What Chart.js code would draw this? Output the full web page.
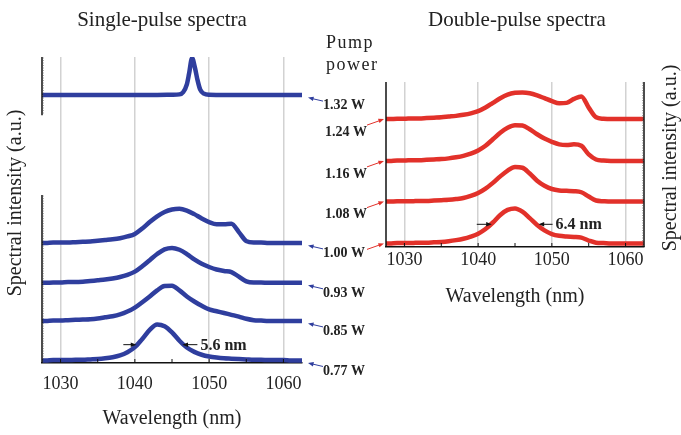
<!DOCTYPE html>
<html>
<head>
<meta charset="utf-8">
<script src="https://cdn.jsdelivr.net/npm/chart.js@4.4.1/dist/chart.umd.min.js"></script>
<style>
  html, body { margin: 0; padding: 0; background: #fff; }
  #wrap { position: relative; width: 681px; height: 435px; }
  #wrap canvas { position: absolute; left: 0; top: 0; }
</style>
</head>
<body>
<div id="wrap">
  <canvas id="singleChart" width="681" height="435"></canvas>
  <canvas id="doubleChart" width="681" height="435"></canvas>
</div>
<script>
// wavelength grid (nm) used by most traces
const wavelengths = [1027, 1028, 1029, 1030, 1031, 1032, 1033, 1034, 1035, 1036,
  1037, 1038, 1039, 1040, 1041, 1042, 1043, 1044, 1045, 1046,
  1047, 1048, 1049, 1050, 1051, 1052, 1053, 1054, 1055, 1056,
  1057, 1058, 1059, 1060, 1061, 1062, 1063]
const xTicks = [1030, 1040, 1050, 1060]

// single-pulse spectra (normalised, a.u.)
const blue077 = [0, 0, 0.01, 0.01, 0.01, 0.02, 0.02, 0.03, 0.04, 0.06,
  0.09, 0.14, 0.23, 0.37, 0.6, 0.85, 1.0, 0.95, 0.78, 0.55,
  0.36, 0.24, 0.16, 0.11, 0.08, 0.06, 0.05, 0.04, 0.03, 0.02,
  0.02, 0.01, 0.01, 0.01, 0, 0, 0]
const blue085 = [0, 0, 0.01, 0.01, 0.02, 0.03, 0.04, 0.05, 0.07, 0.1,
  0.13, 0.18, 0.26, 0.37, 0.52, 0.68, 0.85, 0.97, 0.98, 0.85,
  0.68, 0.54, 0.42, 0.32, 0.27, 0.22, 0.17, 0.12, 0.06, 0.02,
  0.01, 0, 0, 0, 0, 0, 0]
const blue093 = [0, 0, 0.01, 0.01, 0.02, 0.02, 0.03, 0.05, 0.07, 0.09,
  0.12, 0.16, 0.22, 0.31, 0.46, 0.63, 0.8, 0.93, 0.97, 0.92,
  0.8, 0.65, 0.53, 0.44, 0.37, 0.33, 0.3, 0.17, 0.04, 0.01,
  0.01, 0, 0, 0, 0, 0, 0]
const blue100 = [0, 0, 0.01, 0.01, 0.01, 0.02, 0.03, 0.04, 0.06, 0.08,
  0.1, 0.13, 0.18, 0.25, 0.4, 0.58, 0.74, 0.86, 0.93, 0.95,
  0.9, 0.8, 0.68, 0.58, 0.52, 0.52, 0.53, 0.3, 0.05, 0.01,
  0.01, 0, 0, 0, 0, 0, 0]
// 1.32 W trace has a narrow line, sampled on its own grid
const peakWavelengths = [1027, 1040, 1045, 1046, 1046.5, 1047, 1047.3, 1047.7, 1048.1, 1048.4, 1048.8, 1049.3, 1050, 1055, 1063]
const blue132 = [0, 0, 0.01, 0.02, 0.08, 0.3, 0.6, 1.03, 0.75, 0.45, 0.15, 0.04, 0.01, 0, 0]

const singlePowers = ['0.77 W', '0.85 W', '0.93 W', '1.00 W', '1.32 W']
const singleOffsets = [0, 1.1, 2.16, 3.27, 7.38]
const singleFwhm = [1040.2, 1046.4]   // arrow tips on the 0.77 W trace
const singleFwhmLevel = 0.44

// double-pulse spectra
const red100 = [0, 0, 0.01, 0.01, 0.01, 0.02, 0.02, 0.03, 0.04, 0.06,
  0.09, 0.13, 0.19, 0.27, 0.4, 0.58, 0.79, 0.93, 0.97, 0.88,
  0.7, 0.51, 0.36, 0.26, 0.21, 0.19, 0.18, 0.16, 0.08, 0.02,
  0.01, 0, 0, 0, 0, 0, 0]
const red108 = [0, 0, 0.01, 0.01, 0.01, 0.02, 0.02, 0.03, 0.04, 0.05,
  0.07, 0.1, 0.16, 0.24, 0.36, 0.52, 0.7, 0.86, 0.96, 0.94,
  0.78, 0.58, 0.44, 0.35, 0.31, 0.3, 0.29, 0.26, 0.14, 0.03,
  0.01, 0, 0, 0, 0, 0, 0]
const red116 = [0, 0, 0.01, 0.01, 0.02, 0.02, 0.03, 0.04, 0.05, 0.07,
  0.1, 0.14, 0.2, 0.29, 0.42, 0.6, 0.78, 0.92, 0.99, 0.98,
  0.88, 0.74, 0.62, 0.53, 0.46, 0.44, 0.46, 0.42, 0.18, 0.04,
  0.01, 0, 0, 0, 0, 0, 0]
const red124 = [0, 0, 0.01, 0.01, 0.02, 0.02, 0.03, 0.04, 0.05, 0.07,
  0.09, 0.12, 0.16, 0.22, 0.32, 0.45, 0.58, 0.68, 0.73, 0.74,
  0.72, 0.66, 0.58, 0.5, 0.44, 0.45, 0.56, 0.63, 0.32, 0.05,
  0.01, 0, 0, 0, 0, 0, 0]

const doublePowers = ['1.00 W', '1.08 W', '1.16 W', '1.24 W']
const doubleOffsets = [0, 1.16, 2.29, 3.45]
const doubleFwhm = [1041.85, 1048.2]
const doubleFwhmLevel = 0.53

const BLUE = '#2f3e9e'
const RED = '#e2312a'
const SERIF = "'Liberation Serif', 'Times New Roman', serif"

function arrow(ctx, x0, y0, x1, y1, color, head) {
  const ang = Math.atan2(y1 - y0, x1 - x0)
  ctx.strokeStyle = color
  ctx.fillStyle = color
  ctx.lineWidth = 1
  ctx.beginPath()
  ctx.moveTo(x0, y0)
  ctx.lineTo(x1 - head * 0.7 * Math.cos(ang), y1 - head * 0.7 * Math.sin(ang))
  ctx.stroke()
  ctx.beginPath()
  ctx.moveTo(x1, y1)
  ctx.lineTo(x1 - head * Math.cos(ang - 0.38), y1 - head * Math.sin(ang - 0.38))
  ctx.lineTo(x1 - head * Math.cos(ang + 0.38), y1 - head * Math.sin(ang + 0.38))
  ctx.closePath()
  ctx.fill()
}

function dottedAxis(ctx, x, y0, y1, dir) {
  // axis line with dense small ticks
  ctx.strokeStyle = '#111'
  ctx.lineWidth = 1.5
  ctx.beginPath(); ctx.moveTo(x, y0); ctx.lineTo(x, y1); ctx.stroke()
  ctx.strokeStyle = '#555'
  ctx.lineWidth = 0.5
  ctx.beginPath()
  for (let y = y0 + 1; y < y1; y += 2.5) {
    ctx.moveTo(x, y); ctx.lineTo(x + dir * 2, y)
  }
  ctx.stroke()
}

function minorX(ctx, chart) {
  const { chartArea: a, scales: { x } } = chart
  ctx.strokeStyle = '#111'
  ctx.lineWidth = 1
  ctx.beginPath()
  for (let v = 1030; v <= 1060; v += 5) {
    const px = x.getPixelForValue(v)
    ctx.moveTo(px, a.bottom); ctx.lineTo(px, a.bottom - 4)
  }
  ctx.stroke()
}

function makeDataset(xs, ys, offset, color) {
  return {
    data: xs.map((w, i) => ({ x: w, y: offset + ys[i] })),
    borderColor: color,
    borderWidth: 4.5,
    pointRadius: 0,
    fill: false,
    cubicInterpolationMode: 'monotone'
  }
}

function xScale(height, tickPad) {
  return {
    type: 'linear',
    min: 1027.5,
    max: 1062.5,
    afterBuildTicks: s => { s.ticks = xTicks.map(v => ({ value: v })) },
    afterFit: s => { s.height = height },
    ticks: {
      padding: tickPad,
      color: '#222',
      font: { family: SERIF, size: 18 },
      callback: v => String(v)
    },
    grid: { color: '#d2d2d2', lineWidth: 1.5, drawTicks: false },
    border: { display: true, color: '#111', width: 1.5 },
    title: { display: true, text: 'Wavelength (nm)', color: '#222', font: { family: SERIF, size: 20 }, padding: { top: 4, bottom: 4 } }
  }
}

const singleDecor = {
  id: 'singleDecor',
  afterDraw(chart) {
    const { ctx, chartArea: a, scales: { x, y } } = chart
    ctx.save()
    // broken left axis
    dottedAxis(ctx, a.left, a.top, y.getPixelForValue(6.82), 1)
    dottedAxis(ctx, a.left, y.getPixelForValue(4.6), a.bottom, 1)
    minorX(ctx, chart)

    ctx.fillStyle = '#222'
    ctx.font = '21px ' + SERIF
    ctx.textAlign = 'center'
    ctx.textBaseline = 'alphabetic'
    ctx.fillText('Single-pulse spectra', 162, 26)

    ctx.save()
    ctx.translate(16, 203)
    ctx.rotate(-Math.PI / 2)
    ctx.font = '20px ' + SERIF
    ctx.textBaseline = 'middle'
    ctx.fillText('Spectral intensity (a.u.)', 0, 0)
    ctx.restore()

    // pump power header
    ctx.textAlign = 'left'
    ctx.font = '18px ' + SERIF
    ctx.letterSpacing = '1.5px'
    ctx.fillText('Pump', a.right + 24, 48)
    ctx.fillText('power', a.right + 24, 70)
    ctx.letterSpacing = '0px'

    // power labels and arrows
    ctx.font = 'bold 14px ' + SERIF
    ctx.textBaseline = 'middle'
    singleOffsets.forEach((off, i) => {
      const by = y.getPixelForValue(off)
      ctx.fillStyle = '#222'
      ctx.fillText(singlePowers[i], a.right + 21, by + 10.5)
      arrow(ctx, a.right + 21, by + 6, a.right + 6, by + 2.5, BLUE, 6)
    })

    // FWHM marker
    const fy = y.getPixelForValue(singleOffsets[0] + singleFwhmLevel)
    const l = x.getPixelForValue(singleFwhm[0])
    const r = x.getPixelForValue(singleFwhm[1])
    arrow(ctx, l - 13, fy, l, fy, '#111', 6)
    arrow(ctx, r + 15, fy, r, fy, '#111', 6)
    ctx.fillStyle = '#222'
    ctx.font = 'bold 16px ' + SERIF
    ctx.fillText('5.6 nm', r + 18, fy + 1)
    ctx.restore()
  }
}

const doubleDecor = {
  id: 'doubleDecor',
  afterDraw(chart) {
    const { ctx, chartArea: a, scales: { x, y } } = chart
    ctx.save()
    ctx.strokeStyle = '#111'
    ctx.lineWidth = 1.5
    ctx.beginPath(); ctx.moveTo(a.left, a.top); ctx.lineTo(a.left, a.bottom); ctx.stroke()
    dottedAxis(ctx, a.right, a.top, a.bottom, -1)
    minorX(ctx, chart)

    ctx.fillStyle = '#222'
    ctx.font = '21px ' + SERIF
    ctx.textAlign = 'center'
    ctx.textBaseline = 'alphabetic'
    ctx.fillText('Double-pulse spectra', 517, 26)

    ctx.save()
    ctx.translate(671, 158)
    ctx.rotate(-Math.PI / 2)
    ctx.font = '20px ' + SERIF
    ctx.textBaseline = 'middle'
    ctx.fillText('Spectral intensity (a.u.)', 0, 0)
    ctx.restore()

    ctx.textAlign = 'left'
    ctx.textBaseline = 'middle'
    ctx.font = 'bold 14px ' + SERIF
    doubleOffsets.forEach((off, i) => {
      const by = y.getPixelForValue(off)
      if (!singlePowers.includes(doublePowers[i])) {
        ctx.fillStyle = '#222'
        ctx.fillText(doublePowers[i], a.left - 61, by + 13)
      }
      arrow(ctx, a.left - 19, by + 6, a.left - 2, by, RED, 6)
    })

    const fy = y.getPixelForValue(doubleOffsets[0] + doubleFwhmLevel)
    const l = x.getPixelForValue(doubleFwhm[0])
    const r = x.getPixelForValue(doubleFwhm[1])
    arrow(ctx, l - 15, fy, l, fy, '#111', 6)
    arrow(ctx, r + 14, fy, r, fy, '#111', 6)
    ctx.fillStyle = '#222'
    ctx.font = 'bold 16px ' + SERIF
    ctx.fillText('6.4 nm', r + 17, fy + 1)
    ctx.restore()
  }
}

const singleTraces = [blue077, blue085, blue093, blue100]

new Chart(document.getElementById('singleChart'), {
  type: 'line',
  data: {
    datasets: singleTraces.map((t, i) => makeDataset(wavelengths, t, singleOffsets[i], BLUE))
      .concat([makeDataset(peakWavelengths, blue132, singleOffsets[4], BLUE)])
  },
  options: {
    responsive: false,
    animation: false,
    devicePixelRatio: 1,
    layout: { padding: { left: 0, right: 379, top: 57, bottom: 0 } },
    plugins: { legend: { display: false }, tooltip: { enabled: false } },
    scales: {
      x: xScale(72, 10),
      y: {
        min: -0.07,
        max: 8.44,
        afterFit: s => { s.width = 42 },
        ticks: { display: false },
        grid: { display: false },
        border: { display: false }
      }
    }
  },
  plugins: [singleDecor]
})

const doubleTraces = [red100, red108, red116, red124]

new Chart(document.getElementById('doubleChart'), {
  type: 'line',
  data: {
    datasets: doubleTraces.map((t, i) => makeDataset(wavelengths, t, doubleOffsets[i], RED))
  },
  options: {
    responsive: false,
    animation: false,
    devicePixelRatio: 1,
    layout: { padding: { left: 386, right: 37, top: 82, bottom: 122 } },
    plugins: { legend: { display: false }, tooltip: { enabled: false } },
    scales: {
      x: xScale(66, 2),
      y: { display: false, min: -0.1, max: 4.48 }
    }
  },
  plugins: [doubleDecor]
})
</script>
</body>
</html>
